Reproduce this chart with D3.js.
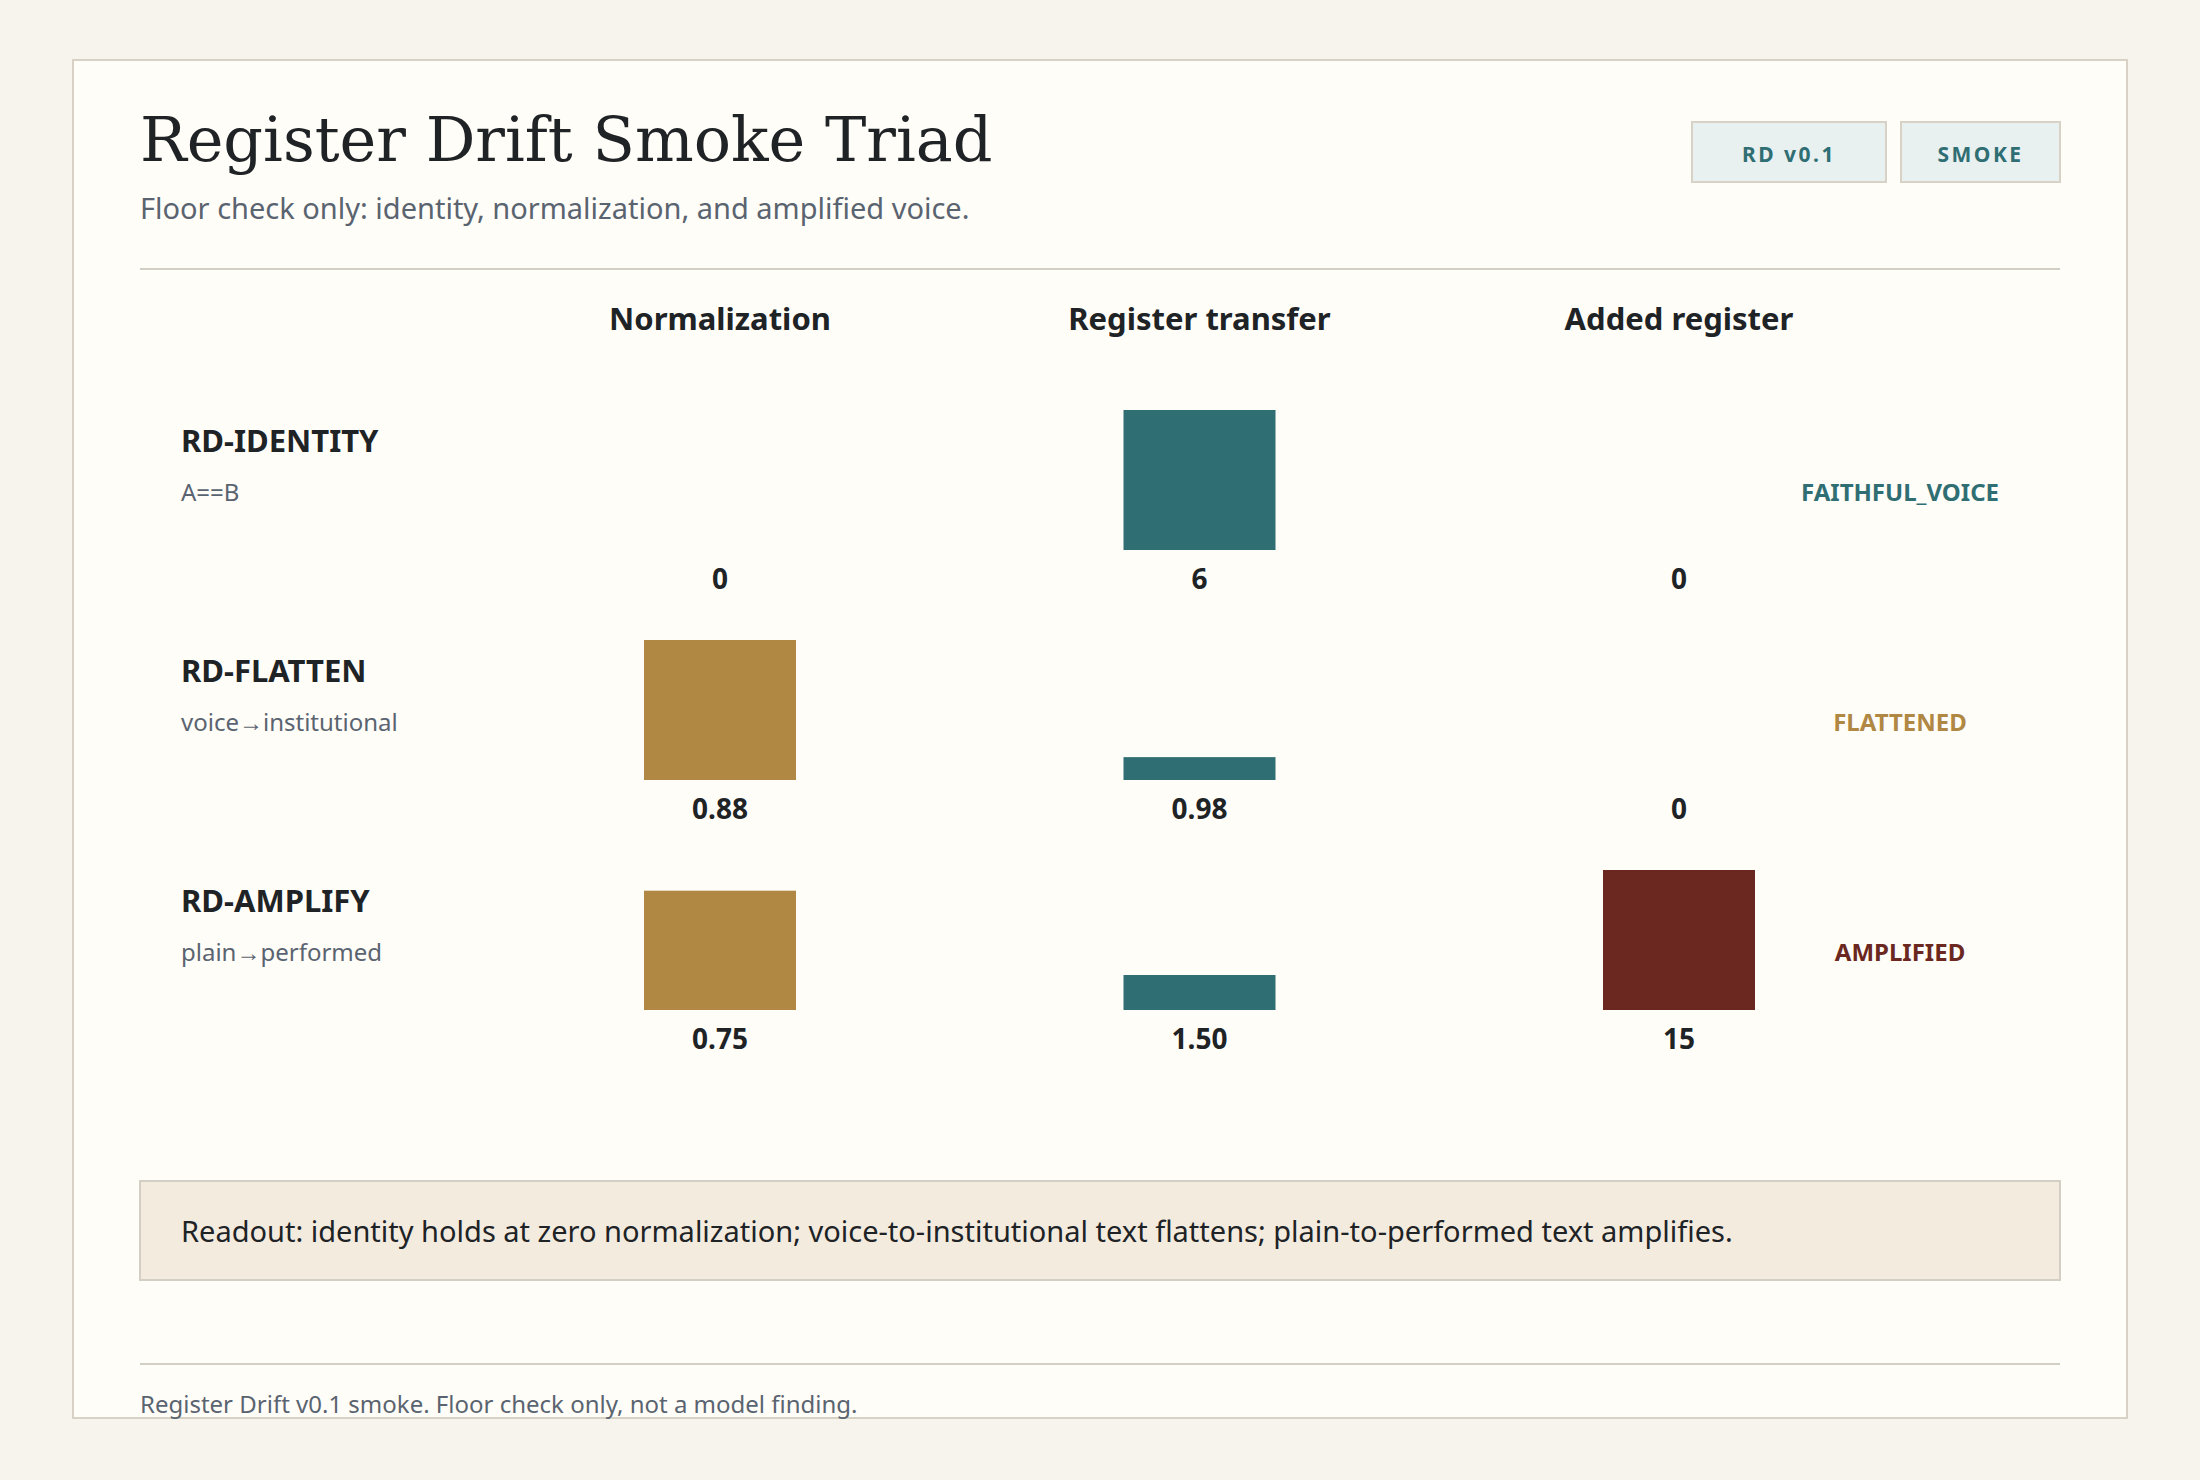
<!DOCTYPE html>
<html><head><meta charset="utf-8">
<script src="https://cdn.jsdelivr.net/npm/d3@7"></script>
<style>body{margin:0;background:#f7f4ee;}svg{display:block;}</style>
</head><body><svg id="c" width="2200" height="1480"></svg>
<script>
const rows = ["RD-IDENTITY","RD-FLATTEN","RD-AMPLIFY"];
const rowSubs = ["A==B","voice\u2192institutional","plain\u2192performed"];
const columns = ["Normalization","Register transfer","Added register"];
const normalization = [0, 0.88, 0.75];
const transfer = [6, 0.98, 1.50];
const added = [0, 0, 15];
const valueLabels = [["0","6","0"],["0.88","0.98","0"],["0.75","1.50","15"]];
const verdicts = ["FAITHFUL_VOICE","FLATTENED","AMPLIFIED"];
const verdictColors = ["#2f6e73","#b08844","#6b2820"];
const colColors = ["#b08844","#2f6e73","#6b2820"];

const svg = d3.select("#c");
const sans = "'Noto Sans', 'Open Sans', sans-serif";
svg.append("rect").attr("x",0).attr("y",0).attr("width",2200).attr("height",1480).attr("fill","#f7f4ee");
svg.append("rect").attr("x",73).attr("y",60).attr("width",2054).attr("height",1358).attr("fill","#fffdf8").attr("stroke","#d8d2c6").attr("stroke-width",2);
svg.append("text").attr("x",140).attr("y",161).text("Register Drift Smoke Triad")
  .attr("font-family","'DejaVu Serif', serif").attr("font-size",62).attr("fill","#202326");
svg.append("text").attr("x",140).attr("y",219).text("Floor check only: identity, normalization, and amplified voice.")
  .attr("font-family",sans).attr("font-size",29).attr("fill","#5a6470");
[[1692,194,"RD v0.1"],[1901,159,"SMOKE"]].forEach(([x,w,t])=>{
  svg.append("rect").attr("x",x).attr("y",122).attr("width",w).attr("height",60).attr("fill","#e8f0f0").attr("stroke","#d8d2c6").attr("stroke-width",2);
  svg.append("text").attr("x",x+w/2).attr("y",162).attr("text-anchor","middle").text(t)
    .attr("font-family",sans).attr("font-weight","bold").attr("font-size",21).attr("letter-spacing",2.5).attr("fill","#2f6e73");
});
svg.append("line").attr("x1",140).attr("x2",2060).attr("y1",269).attr("y2",269).attr("stroke","#d4cfc4").attr("stroke-width",2);

const x = d3.scalePoint().domain(columns).range([720,1679]);
const y = d3.scalePoint().domain(rows).range([550,1010]);
columns.forEach(c=>svg.append("text").attr("x",x(c)).attr("y",330).attr("text-anchor","middle").text(c)
  .attr("font-family",sans).attr("font-weight","bold").attr("font-size",31).attr("fill","#202326"));

const series = [normalization, transfer, added];
const hScales = series.map(s=>d3.scaleLinear().domain([0,d3.max(s)]).range([0,140]));
rows.forEach((r,i)=>{
  const yb = y(r);
  svg.append("text").attr("x",181).attr("y",yb-98).text(r).attr("font-family",sans).attr("font-weight","bold").attr("font-size",31).attr("fill","#202326");
  svg.append("text").attr("x",181).attr("y",yb-49).text(rowSubs[i]).attr("font-family",sans).attr("font-size",24).attr("fill","#5a6470");
  svg.append("text").attr("x",1900).attr("y",yb-49).attr("text-anchor","middle").text(verdicts[i])
    .attr("font-family",sans).attr("font-weight","bold").attr("font-size",24).attr("fill",verdictColors[i]);
  columns.forEach((c,j)=>{
    const h = hScales[j](series[j][i]);
    if(h>0) svg.append("rect").attr("x",x(c)-76).attr("y",yb-h).attr("width",152).attr("height",h).attr("fill",colColors[j]);
    svg.append("text").attr("x",x(c)).attr("y",yb+39).attr("text-anchor","middle").text(valueLabels[i][j])
      .attr("font-family",sans).attr("font-weight","bold").attr("font-size",28).attr("fill","#202326");
  });
});
svg.append("rect").attr("x",140).attr("y",1181).attr("width",1920).attr("height",99).attr("fill","#f4ebdf").attr("stroke","#d4cfc4").attr("stroke-width",2);
svg.append("text").attr("x",181).attr("y",1242).text("Readout: identity holds at zero normalization; voice-to-institutional text flattens; plain-to-performed text amplifies.")
  .attr("font-family",sans).attr("font-size",29).attr("fill","#202326");
svg.append("line").attr("x1",140).attr("x2",2060).attr("y1",1364).attr("y2",1364).attr("stroke","#d4cfc4").attr("stroke-width",2);
svg.append("text").attr("x",140).attr("y",1413).text("Register Drift v0.1 smoke. Floor check only, not a model finding.")
  .attr("font-family",sans).attr("font-size",24).attr("fill","#5a6470");
</script></body></html>
